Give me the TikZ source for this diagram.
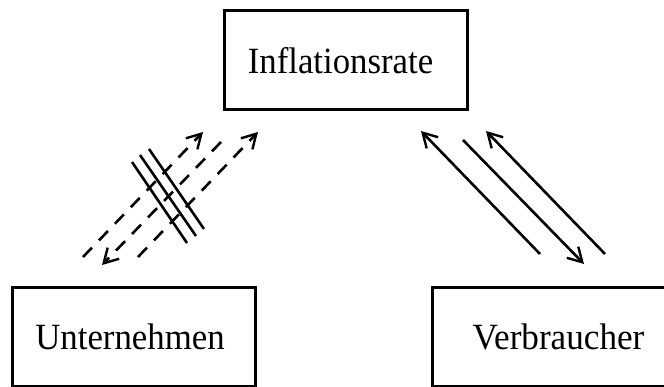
\documentclass[tikz,border=0pt]{standalone}
\usepackage{fontspec}
\setmainfont{Liberation Serif}
\usetikzlibrary{arrows.meta}
\tikzset{
  box/.style={draw,line width=3pt,inner sep=0pt,font=\fontsize{37}{40}\selectfont},
  flow/.style={line width=2.6pt,-{Straight Barb[length=14pt,width=16pt,line width=2.4pt]}},
  dashflow/.style={flow,dash pattern=on 13pt off 10pt},
  blocked/.style={line width=2.6pt}
}
\newcommand{\squeeze}[2][0.94]{\scalebox{#1}[1]{#2}}

\begin{document}
\begin{tikzpicture}[x=1pt,y=-1pt]
  \useasboundingbox (0,0) rectangle (664,387);
  \clip (0,0) rectangle (664,387);
  % Boxes
  \node[box,minimum width=243pt,minimum height=99pt] (rate) at (345.5,60.5) {\hspace*{-10pt}\squeeze{Inflationsrate}};
  \node[box,minimum width=243pt,minimum height=98pt] (firms) at (133.5,337) {\hspace*{-7pt}\squeeze{Unternehmen}};
  \node[box,minimum width=255pt,minimum height=98pt] (consumers) at (559.5,337) {\hspace*{-2pt}\squeeze[0.95]{Verbraucher}};
  % Ends of the flows (firms side)
  \coordinate (fa1) at (83,257);  \coordinate (fa2) at (203,132);
  \coordinate (fb1) at (221,142); \coordinate (fb2) at (102,265);
  \coordinate (fc1) at (138,257); \coordinate (fc2) at (258,132);
  % Ends of the strike marks
  \coordinate (s1a) at (132,162); \coordinate (s1b) at (187,243);
  \coordinate (s2a) at (140,155); \coordinate (s2b) at (196,236);
  \coordinate (s3a) at (149,149); \coordinate (s3b) at (204,229);
  % Ends of the flows (consumers side)
  \coordinate (ca1) at (540,254); \coordinate (ca2) at (421,131);
  \coordinate (cb1) at (463,140); \coordinate (cb2) at (584,264);
  \coordinate (cc1) at (605,254); \coordinate (cc2) at (486,131);
  % Firms <-> rate (broken)
  \draw[dashflow] (fa1) -- (fa2);
  \draw[dashflow] (fb1) -- (fb2);
  \draw[dashflow] (fc1) -- (fc2);
  \draw[blocked] (s1a) -- (s1b);
  \draw[blocked] (s2a) -- (s2b);
  \draw[blocked] (s3a) -- (s3b);
  % Consumers <-> rate
  \draw[flow] (ca1) -- (ca2);
  \draw[flow] (cb1) -- (cb2);
  \draw[flow] (cc1) -- (cc2);
\end{tikzpicture}
\end{document}
